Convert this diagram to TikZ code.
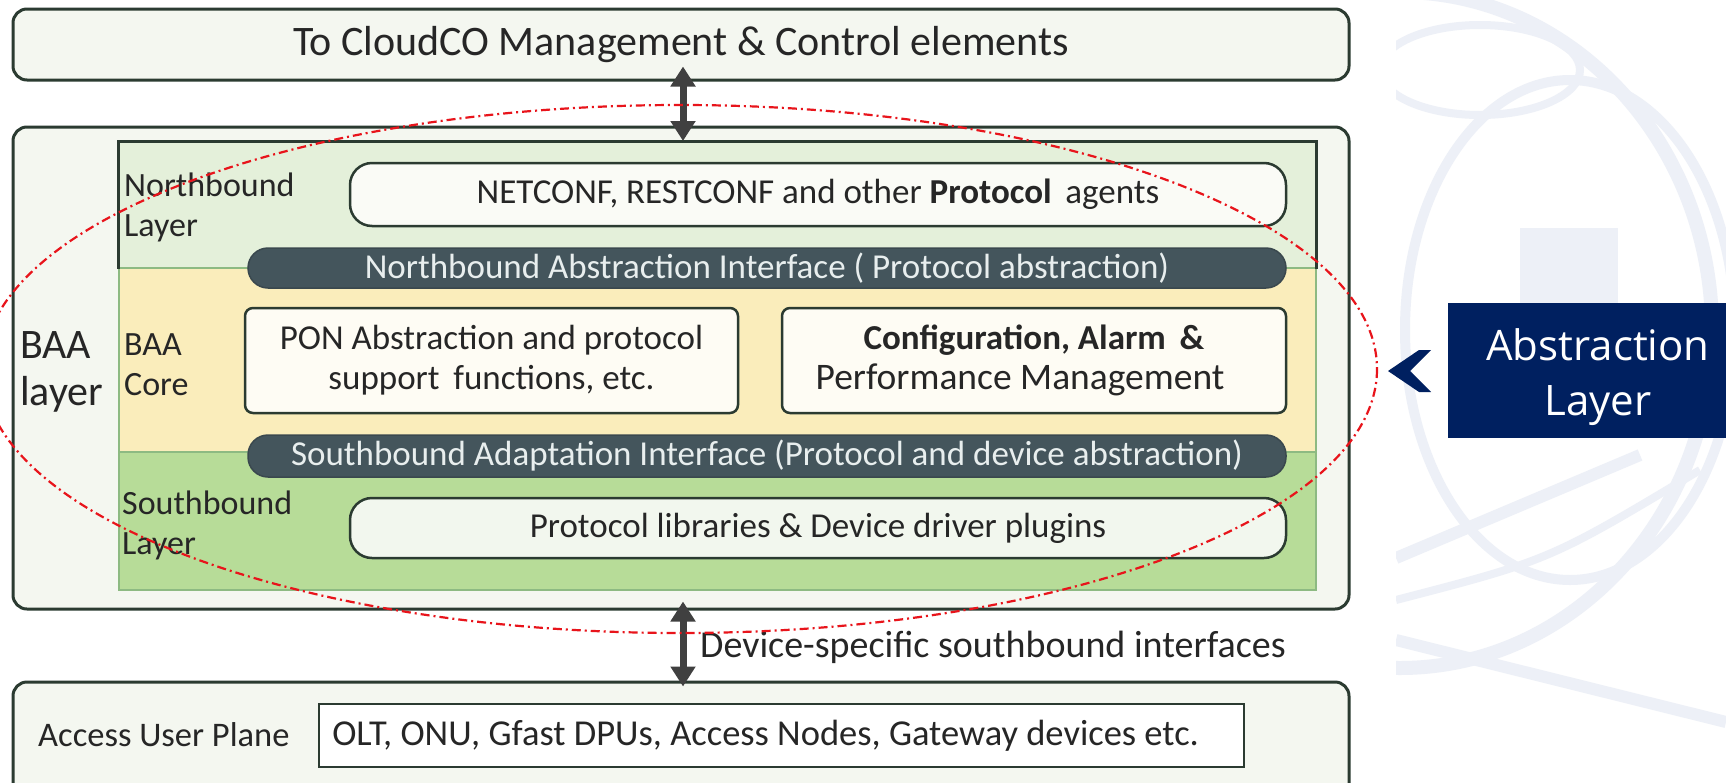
\documentclass[tikz,border=0pt]{standalone}
\usepackage{fontspec}
\setmainfont{Carlito}
\newfontfamily\calloutfont{Open Sans}
\usetikzlibrary{arrows.meta}

\definecolor{boxbg}{HTML}{F4F7F0}
\definecolor{boxline}{HTML}{2B3B31}
\definecolor{nbfill}{HTML}{E4F0DA}
\definecolor{corefill}{HTML}{FAEDBB}
\definecolor{sbfill}{HTML}{B7DC98}
\definecolor{framegreen}{HTML}{8DBA82}
\definecolor{barfill}{HTML}{44555C}
\definecolor{bartext}{HTML}{E8EEEE}
\definecolor{agentfill}{HTML}{FAFBF6}
\definecolor{funcfill}{HTML}{FEFCF4}
\definecolor{libfill}{HTML}{F2F7EE}
\definecolor{navy}{HTML}{002060}
\definecolor{wmblue}{HTML}{EDF0F7}
\definecolor{txt}{HTML}{262626}
\definecolor{arrowgray}{HTML}{404040}
\definecolor{ellred}{HTML}{E8141B}

\tikzset{
  panel/.style={draw=boxline, line width=3pt, fill=boxbg, rounded corners=14pt, inner sep=0pt},
  region/.style={draw=framegreen, line width=1.5pt, inner sep=0pt, anchor=north west},
  agentbox/.style={draw=boxline, line width=2.5pt, rounded corners=22pt, inner sep=0pt, text=txt,
    font=\fontsize{35}{40}\selectfont},
  bar/.style={draw=barfill!85!black, line width=1.5pt, fill=barfill, rounded corners=20pt, inner sep=0pt,
    text=bartext, font=\fontsize{35}{40}\selectfont},
  funcbox/.style={draw=boxline, line width=2.5pt, rounded corners=8pt, fill=funcfill, inner sep=0pt,
    align=center, text=txt, font=\fontsize{35}{40}\selectfont},
  sidelabel/.style={anchor=west, align=left, inner sep=0pt, text=txt, font=\fontsize{34}{40}\selectfont},
  dblarrow/.style={{Triangle[length=20pt,width=24pt]}-{Triangle[length=20pt,width=24pt]},
    line width=7pt, draw=arrowgray},
  watermark/.style={draw=wmblue, line width=14pt},
}

\begin{document}
\begin{tikzpicture}[x=1pt,y=-1pt]
\useasboundingbox (0,0) rectangle (1726,782);
\fill[white] (0,0) rectangle (1726,782);

% faint globe in the background on the right
\begin{scope}
  \clip (1396,0) rectangle (1726,782);
  \draw[watermark] (1400,330) ellipse[x radius=312, y radius=338];
  \draw[watermark, line width=10pt] (1570,330) ellipse[x radius=165, y radius=250];
  \draw[watermark, line width=8pt] (1480,70) ellipse[x radius=100, y radius=45];
  \fill[wmblue] (1520,228) rectangle (1618,303);
  \draw[watermark, line width=12pt] (1396,558) -- (1640,455);
  \draw[watermark, line width=12pt] (1396,640) -- (1726,722);
  \draw[watermark, line width=8pt] (1396,600) .. controls (1550,560) .. (1700,470);
\end{scope}

% outer panels
\node[panel, minimum width=1336pt, minimum height=71pt] (cloud) at (681,44.5)
  {\fontsize{42}{48}\selectfont\color{txt}To CloudCO Management \& Control elements};
\node[panel, minimum width=1336pt, minimum height=482pt] (baa) at (681,368) {};
\node[panel, minimum width=1336pt, minimum height=120pt] (plane) at (681,742) {};

% layered frame inside the BAA layer
\node[region, fill=nbfill, minimum width=1197pt, minimum height=126pt] (nbl) at (118,141) {};
\node[region, fill=corefill, minimum width=1197pt, minimum height=184pt] (core) at (118,267) {};
\node[region, fill=sbfill, minimum width=1197pt, minimum height=138pt] (sbl) at (118,451) {};
\draw[boxline, line width=3pt] (nbl.south west) -- (nbl.north west) -- (nbl.north east) -- (nbl.south east);

% side labels
\node[sidelabel, font=\fontsize{42}{47}\selectfont] (baalabel) at (20,372) {BAA\\layer};
\node[sidelabel] (nblabel) at (124,207) {Northbound\\Layer};
\node[sidelabel] (corelabel) at (124,365) {BAA\\Core};
\node[sidelabel] (sblabel) at (122,525) {Southbound\\Layer};

% contents of the layers
\node[agentbox, fill=agentfill, minimum width=936pt, minimum height=63pt] (agents) at (818,194.5)
  {NETCONF, RESTCONF and other \textbf{Protocol}\, agents};
\node[bar, minimum width=1038pt, minimum height=40pt] (nbi) at (767,268)
  {Northbound Abstraction Interface ( Protocol abstraction)};
\node[funcbox, minimum width=493pt, minimum height=105pt] (pon) at (491.5,360.5)
  {PON Abstraction and protocol\\support\, functions, etc.};
\node[funcbox, minimum width=504pt, minimum height=105pt] (fcaps) at (1034,360.5)
  {\textbf{Configuration, Alarm\, \&}\\\fontsize{37.5}{40}\selectfont Performance Management\hspace*{28pt}};
\node[bar, minimum width=1038pt, minimum height=42pt] (sbi) at (767,456)
  {Southbound Adaptation Interface (Protocol and device abstraction)};
\node[agentbox, fill=libfill, minimum width=936pt, minimum height=60pt] (libs) at (818,528)
  {Protocol libraries \& Device driver plugins};

% access user plane
\node[anchor=west, inner sep=0pt, text=txt, font=\fontsize{34.5}{40}\selectfont] (aupl) at (38,735)
  {Access User Plane};
\node[draw=boxline, line width=2.5pt, fill=white, minimum width=925pt, minimum height=63pt,
  inner sep=0pt, text=txt, font=\fontsize{36.5}{40}\selectfont] (devices) at (781.5,735.5)
  {OLT, ONU, Gfast DPUs, Access Nodes, Gateway devices etc.\hspace*{32pt}};

% interfaces between the planes
\coordinate (upx) at (683,0);
\draw[dblarrow] ([yshift=15pt]cloud.south -| upx) -- (upx |- nbl.north);
\draw[dblarrow] ([yshift=9pt]baa.south -| upx) -- ([yshift=-6pt]upx |- plane.north);
\node[anchor=west, inner sep=0pt, text=txt, font=\fontsize{38}{40}\selectfont] (sbif) at (700,647)
  {Device-specific southbound interfaces};

% abstraction layer highlight
\draw[ellred, line width=2.2pt, dash pattern=on 9pt off 4pt on 2pt off 4pt]
  (680,369) ellipse[x radius=697, y radius=264];
\node[fill=navy, minimum width=278pt, minimum height=135pt, inner sep=0pt] (abs) at (1587,370.5) {};
\node[inner sep=0pt, align=center, text=white, font=\calloutfont\fontsize{42}{55}\selectfont]
  (abstext) at (1598,377) {Abstraction\\Layer};
\fill[navy] (1388,371) -- (1419,350) -- (1431,350) -- (1410,371) -- (1431,392) -- (1419,392) -- cycle;
\end{tikzpicture}
\end{document}
